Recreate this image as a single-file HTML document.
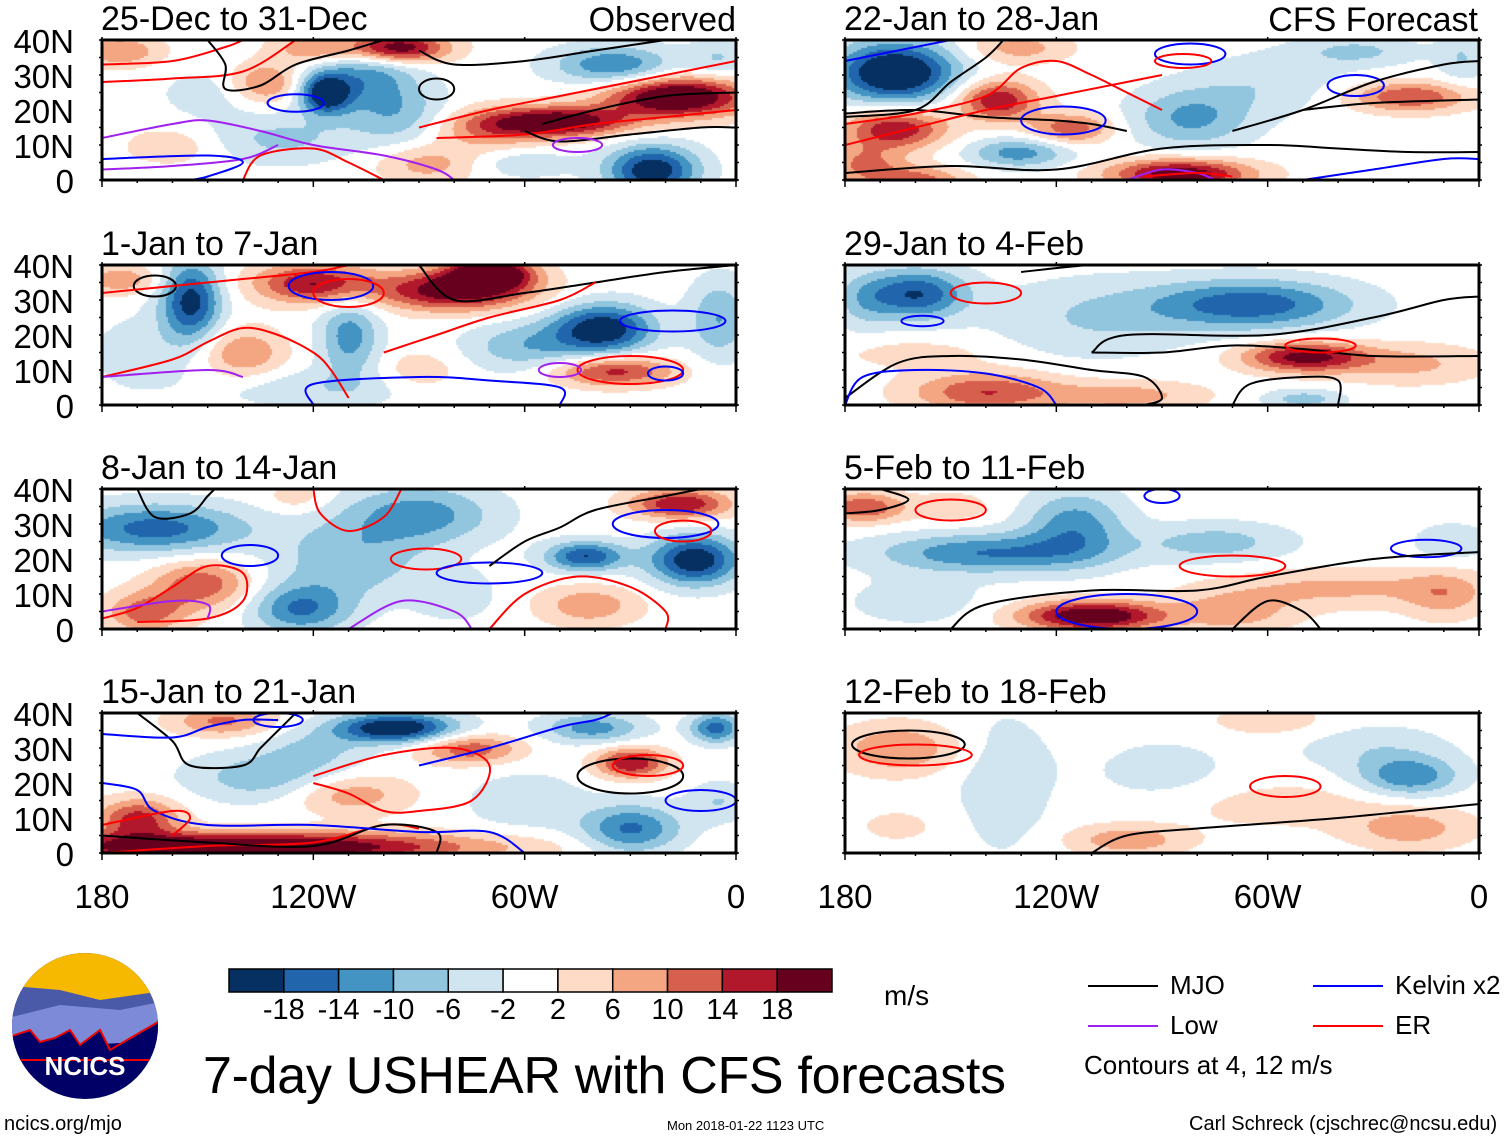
<!DOCTYPE html>
<html><head><meta charset="utf-8">
<style>
body{margin:0;background:#fff;width:1510px;height:1141px;overflow:hidden;position:relative;font-family:"Liberation Sans",sans-serif;}
.t{position:absolute;white-space:nowrap;color:#000;line-height:1;z-index:3;}
canvas{position:absolute;z-index:1;}
#ov{z-index:2;}
</style></head>
<body>
<svg id="ov" width="1510" height="1141" style="position:absolute;left:0;top:0"></svg>

<div class="t" style="left:884px;top:982px;font-size:28px">m/s</div>
<div class="t" style="left:203px;top:1050px;font-size:52px;letter-spacing:-0.3px">7-day USHEAR with CFS forecasts</div>
<div class="t" style="left:4px;top:1114px;font-size:20px">ncics.org/mjo</div>
<div class="t" style="left:667px;top:1119px;font-size:13px">Mon 2018-01-22 1123 UTC</div>
<div class="t" style="left:1189px;top:1114px;font-size:20px">Carl Schreck (cjschrec@ncsu.edu)</div>
<div class="t" style="left:1084px;top:1052px;font-size:26px">Contours at 4, 12 m/s</div>

<script>
// ---------- data ----------
const titles=["25-Dec to 31-Dec","22-Jan to 28-Jan","1-Jan to 7-Jan","29-Jan to 4-Feb","8-Jan to 14-Jan","5-Feb to 11-Feb","15-Jan to 21-Jan","12-Feb to 18-Feb"];
const latTicks=["40N","30N","20N","10N","0"];
const lonTicks=["180","120W","60W","0"];
const lonTickVals=[-180,-120,-60,0];
const cbLabels=["-18","-14","-10","-6","-2","2","6","10","14","18"];
const levels=[-18,-14,-10,-6,-2,2,6,10,14,18];
const colors=["#053061","#2166ac","#4393c3","#92c5de","#d1e5f0","#ffffff","#fddbc7","#f4a582","#d6604d","#b2182b","#67001f"];
// blobs per panel: [lon, lat, value(m/s), lonWidth, latWidth]
const blobs0=[[-17,24,26,14,4],[-50,17,22,14,3],[-70,15,10,12,4],[-97,38,24,10,3],[-120,38,10,8,3],[-175,37,10,8,3],[-134,28,11,7,4],[-117,25,-22,5,4],[-105,30,-12,10,7],[-95,18,-8,10,6],[-24,3,-22,9,5],[-35,33,-14,12,4],[-130,12,-7,15,5],[-160,10,5,10,4],[-88,5,8,10,4],[-60,5,-5,10,3],[-150,25,-4,10,5],[-5,35,-6,6,4]];
const blobs1=[[-166,31,-26,12,6],[-137,23,18,8,4],[-166,15,18,10,4],[-116,15,13,8,3],[-131,8,-12,10,3],[-82,18,-11,12,6],[-85,2,22,14,3],[-20,24,14,12,3],[-35,37,-7,12,3],[-131,38,8,10,3],[-175,5,10,8,4],[-60,28,-5,15,6],[-5,35,-6,5,5],[-160,0,12,10,3]];
const blobs2=[[-155,30,-20,6,8],[-120,35,18,12,4],[-80,33,22,15,4],[-70,38,26,8,3],[-38,22,-22,10,5],[-35,10,16,12,3],[-140,15,10,8,5],[-110,20,-12,6,8],[-60,17,-9,12,5],[-175,36,9,8,3],[-5,25,-10,6,8],[-120,5,-5,20,4],[-90,10,5,8,4],[-170,15,-4,10,8]];
const blobs3=[[-160,32,-18,10,5],[-65,29,-17,20,5],[-50,14,20,12,3],[-140,4,14,15,4],[-100,3,8,15,3],[-110,25,-6,20,8],[-20,12,7,15,4],[-175,30,-6,6,6],[-50,2,-8,8,2],[-160,15,4,15,3]];
const blobs4=[[-165,29,-16,18,5],[-152,13,13,10,5],[-168,5,12,8,4],[-12,20,-22,9,5],[-43,21,-18,8,3],[-16,36,18,10,3],[-90,33,-12,15,6],[-124,6,-14,10,5],[-110,20,-9,15,8],[-42,7,9,10,4],[-80,10,-5,8,5],[-125,38,5,6,3]];
const blobs5=[[-175,35,14,8,3],[-150,35,5,8,3],[-140,22,-14,22,4],[-115,30,-12,10,7],[-75,25,-8,15,4],[-110,4,24,14,3],[-70,5,8,12,4],[-40,12,7,25,4],[-10,10,7,8,5],[-8,25,-5,8,4],[-160,8,-4,15,5]];
const blobs6=[[-140,2,26,45,3],[-170,10,16,8,4],[-97,36,-24,12,3],[-76,30,13,10,3],[-30,26,18,7,3],[-134,22,-9,15,5],[-30,7,-15,10,5],[-6,36,-16,5,3],[-41,36,-12,10,3],[-110,17,9,12,4],[-146,38,11,10,3],[-120,30,-6,10,4],[-60,15,-5,12,6],[-5,15,-6,6,4]];
const blobs7=[[-165,30,10,12,5],[-20,22,-13,10,4],[-30,30,-5,15,5],[-90,22,-4,15,8],[-20,7,8,12,4],[-100,4,9,12,3],[-135,20,-5,10,14],[-60,14,4,30,5],[-60,38,5,12,3],[-165,8,3,10,4]];
const allBlobs=[blobs0,blobs1,blobs2,blobs3,blobs4,blobs5,blobs6,blobs7];
// contours per panel: [colorKey, points] or [colorKey, 'e', lon, lat, rxLon, ryLat]
const contours0=[["r",[[-180,33],[-160,34],[-145,38],[-140,40]]],["r",[[-180,28],[-160,29],[-140,31],[-125,40]]],["k",[[-150,40],[-145,33],[-145,26],[-135,27],[-125,33],[-110,37],[-100,40]]],["k",[[-90,37],[-80,33],[-60,34],[-40,37],[-20,40]]],["r",[[-90,15],[-70,20],[-50,24],[-30,28],[-10,32],[0,34]]],["r",[[-85,12],[-60,13],[-40,16],[-20,18],[0,20]]],["k",[[-60,14],[-50,11],[-30,13],[-10,15],[0,15]]],["k",[[-55,16],[-40,20],[-20,24],[0,25]]],["b","e",-125,22,8,2.5],["p",[[-180,12],[-160,16],[-150,17],[-135,14],[-120,10],[-100,7],[-85,3],[-80,0]]],["p",[[-180,3],[-160,4],[-140,6],[-130,10]]],["b",[[-180,6],[-150,7],[-140,5],[-150,1],[-155,0]]],["r",[[-140,0],[-135,7],[-120,9],[-110,5],[-100,0]]],["p","e",-45,10,7,2],["k","e",-85,26,5,3]];
const contours1=[["k",[[-180,18],[-160,20],[-150,28],[-140,35],[-135,40]]],["k",[[-180,19],[-160,20],[-140,18],[-120,17],[-110,16],[-100,14]]],["r",[[-180,16],[-160,19],[-140,24],[-130,32],[-120,34],[-110,30],[-100,25],[-90,20]]],["r",[[-180,10],[-160,15],[-140,20],[-120,24],[-100,28],[-90,30]]],["b","e",-118,17,12,4],["b",[[-180,34],[-170,36],[-160,38],[-150,40]]],["b","e",-82,36,10,3],["r","e",-84,34,8,2],["b","e",-35,27,8,3],["k",[[-70,14],[-50,20],[-30,28],[-10,33],[0,34]]],["k",[[-50,20],[-30,22],[0,23]]],["k",[[-180,2],[-150,4],[-120,3],[-90,9],[-60,10],[-40,9],[-20,8],[0,8]]],["b",[[-50,0],[-30,3],[-10,6],[0,6]]],["p",[[-100,0],[-90,3],[-80,2],[-75,0]]],["r",[[-95,1],[-80,2],[-70,1]]]];
const contours2=[["k","e",-165,34,6,3],["r",[[-180,32],[-160,34],[-140,36],[-120,38],[-110,40]]],["b","e",-115,34,12,4],["r","e",-110,32,10,4],["k",[[-90,40],[-80,30],[-60,32],[-40,35],[-20,38],[0,40]]],["r",[[-180,8],[-160,13],[-150,18],[-140,22],[-130,20],[-120,15],[-115,10],[-110,2]]],["p",[[-180,8],[-150,10],[-140,8]]],["r",[[-100,15],[-85,20],[-70,25],[-50,30],[-40,35]]],["b",[[-120,0],[-120,6],[-90,8],[-70,7],[-50,5],[-50,0]]],["b","e",-18,24,15,3],["r","e",-30,10,15,4],["b","e",-20,9,5,2],["p","e",-50,10,6,2]];
const contours3=[["r","e",-140,32,10,3],["b","e",-158,24,6,1.5],["k",[[-180,2],[-165,12],[-150,14],[-130,13],[-110,10],[-95,8],[-90,2],[-95,0]]],["b",[[-180,0],[-175,8],[-160,10],[-140,9],[-125,5],[-120,0]]],["k",[[-110,15],[-100,20],[-60,20],[-30,25],[-10,30],[0,31]]],["k",[[-110,15],[-90,15],[-70,17],[-50,16],[-30,14],[0,14]]],["r","e",-45,17,10,2],["k",[[-70,0],[-65,6],[-50,8],[-40,7],[-40,0]]],["k",[[-130,38],[-110,40],[-90,40]]]];
const contours4=[["k",[[-170,40],[-165,32],[-155,33],[-150,38],[-148,40]]],["r",[[-120,40],[-118,33],[-110,28],[-100,32],[-95,40]]],["b","e",-138,21,8,3],["r",[[-180,3],[-170,6],[-160,12],[-150,18],[-140,16],[-140,8],[-150,3],[-170,2]]],["p",[[-180,5],[-160,8],[-150,7],[-150,3]]],["r","e",-88,20,10,3],["b","e",-70,16,15,3],["k",[[-70,18],[-60,25],[-50,29],[-40,34],[-20,38],[-10,40]]],["b","e",-20,30,15,4],["r","e",-15,28,8,3],["r",[[-70,0],[-60,10],[-45,15],[-30,12],[-20,5],[-20,0]]],["p",[[-110,0],[-95,8],[-80,5],[-75,0]]]];
const contours5=[["k",[[-180,33],[-170,34],[-162,37],[-170,40]]],["r","e",-150,34,10,3],["b","e",-90,38,5,2],["b","e",-15,23,10,2.5],["r","e",-70,18,15,3],["k",[[-150,0],[-140,7],[-110,11],[-80,11],[-60,15],[-30,20],[0,22]]],["b","e",-100,5,20,5],["k",[[-70,0],[-60,8],[-50,5],[-45,0]]]];
const contours6=[["k",[[-170,40],[-160,32],[-155,25],[-140,25],[-135,30],[-130,35],[-125,40]]],["b",[[-180,34],[-160,33],[-150,36],[-140,38],[-130,38]]],["b","e",-130,38,7,2],["r",[[-120,20],[-110,17],[-100,12],[-90,12],[-75,15],[-70,25],[-80,30],[-100,28],[-120,22]]],["b",[[-90,25],[-70,30],[-50,36],[-40,38],[-35,40]]],["k","e",-30,22,15,5],["r","e",-25,25,10,3],["b","e",-10,15,10,3],["r",[[-180,0],[-150,2],[-120,3],[-100,8],[-90,7]]],["k",[[-180,5],[-150,3],[-120,2],[-100,8],[-85,6],[-85,0]]],["b",[[-180,20],[-170,18],[-165,12],[-150,8],[-120,8],[-90,6],[-70,6],[-60,0]]],["r",[[-180,8],[-160,12],[-155,10],[-160,5]]]];
const contours7=[["k","e",-162,31,16,4],["r","e",-160,28,16,3],["r","e",-55,19,10,3],["k",[[-110,0],[-100,5],[-80,7],[-40,10],[0,14]]]];
const allContours=[contours0,contours1,contours2,contours3,contours4,contours5,contours6,contours7];
const lineColors={k:"#000",b:"#0000ff",p:"#a020f0",r:"#ff0000"};

// ---------- layout ----------
const colX=[102,845], W=634, H=140, rowY=[40,265,489,713];
const NS="http://www.w3.org/2000/svg";
const ov=document.getElementById('ov');
function sv(tag,a,p){const e=document.createElementNS(NS,tag);for(const k in a)e.setAttribute(k,a[k]);(p||ov).appendChild(e);return e;}
function txt(s,l,t,fs,name,align){const d=document.createElement('div');d.className='t';d.textContent=s;d.style.left=l+'px';d.style.top=t+'px';d.style.fontSize=fs+'px';if(align==='r'){d.style.left='auto';d.style.right=(1510-l)+'px';}if(align==='c'){d.style.transform='translateX(-50%)';}


document.body.appendChild(d);return d;}
function colorOf(v){let i=0;while(i<levels.length&&v>=levels[i])i++;return colors[i];}
function smoothPath(P){
  let d='M'+P[0][0].toFixed(1)+' '+P[0][1].toFixed(1);
  for(let i=0;i<P.length-1;i++){const p0=P[i-1]||P[i],p1=P[i],p2=P[i+1],p3=P[i+2]||p2;
    const c1=[p1[0]+(p2[0]-p0[0])/6,p1[1]+(p2[1]-p0[1])/6],c2=[p2[0]-(p3[0]-p1[0])/6,p2[1]-(p3[1]-p1[1])/6];
    d+=' C'+c1[0].toFixed(1)+' '+c1[1].toFixed(1)+' '+c2[0].toFixed(1)+' '+c2[1].toFixed(1)+' '+p2[0].toFixed(1)+' '+p2[1].toFixed(1);}
  return d;}

for(let p=0;p<8;p++){
  const c=p%2,r=Math.floor(p/2),x0=colX[c],y0=rowY[r];
  const xs=lon=>x0+(lon+180)/180*W, ys=lat=>y0+H-lat/40*H;
  const cv=document.createElement('canvas');cv.width=W;cv.height=H;cv.style.left=x0+'px';cv.style.top=y0+'px';
  
  
  document.body.appendChild(cv);
  const g=cv.getContext('2d');const b=allBlobs[p];const step=2;
  for(let px=0;px<W;px+=step){const lon=-180+px/W*180;
    for(let py=0;py<H;py+=step){const lat=40-py/H*40;let v=0;
      for(const q of b){const dx=(lon-q[0])/q[3],dy=(lat-q[1])/q[4];v+=q[2]*Math.exp(-0.5*(dx*dx+dy*dy));}
      g.fillStyle=colorOf(v);g.fillRect(px,py,step,step);}}
  const cg=sv('g',{});
  
  
  sv('defs',{},cg).innerHTML='<clipPath id="pc'+p+'"><rect x="'+x0+'" y="'+y0+'" width="'+W+'" height="'+H+'"/></clipPath>';
  const cgi=sv('g',{'clip-path':'url(#pc'+p+')',fill:'none','stroke-width':2,'stroke-linejoin':'round'},cg);
  for(const ct of allContours[p]){
    const col=lineColors[ct[0]];
    if(ct[1]==='e'){
      const el=sv('ellipse',{cx:xs(ct[2]),cy:ys(ct[3]),rx:ct[4]/180*W,ry:ct[5]/40*H,stroke:col},cgi);
      
      
    } else {
      const pts=ct[1].map(q=>[xs(q[0]),ys(q[1])]);
      const pl=sv('path',{d:smoothPath(pts),stroke:col},cgi);
      
      
    }
  }
  const fr=sv('rect',{x:x0,y:y0,width:W,height:H,fill:'none',stroke:'#000','stroke-width':3});
  
  
  for(let lon=-180;lon<=0;lon+=10){const L=lon%60===0?7:3;
    sv('line',{x1:xs(lon),x2:xs(lon),y1:y0+H,y2:y0+H+L,stroke:'#000','stroke-width':1.5});
    sv('line',{x1:xs(lon),x2:xs(lon),y1:y0,y2:y0-(lon%60===0?3:1),stroke:'#000','stroke-width':1.5});}
  for(let lat=0;lat<=40;lat+=5){sv('line',{x1:x0+W,x2:x0+W+3,y1:ys(lat),y2:ys(lat),stroke:'#000','stroke-width':1.5});sv('line',{x1:x0,x2:x0-3,y1:ys(lat),y2:ys(lat),stroke:'#000','stroke-width':1.5});}
  txt(titles[p],x0-1,y0-38,34,'panel-title-'+(p+1));
  if(c===0){latTicks.forEach((s,i)=>txt(s,74,y0-15+i*35,33,'lat-label','r'));}
  if(r===3){lonTickVals.forEach((lv,i)=>txt(lonTicks[i],xs(lv),y0+H+27,33,'lon-label','c'));}
}
txt("Observed",736,3,34,'observed-label','r');
txt("CFS Forecast",1478,3,34,'forecast-label','r');

const cbX=229,cbW=603,cbY=969,cbH=23,bw=cbW/colors.length;
colors.forEach((col,i)=>{const rr=sv('rect',{x:cbX+i*bw,y:cbY,width:bw,height:cbH,fill:col,stroke:'#000','stroke-width':1.5});

});
cbLabels.forEach((s,i)=>txt(s,cbX+(i+1)*bw,996,29,'colorbar-label','c'));

const leg=[["MJO","#000",1088,986],["Kelvin x2","#00f",1313,986],["Low","#a020f0",1088,1026],["ER","#f00",1313,1026]];
leg.forEach(l=>{const ln=sv('line',{x1:l[2],x2:l[2]+70,y1:l[3],y2:l[3],stroke:l[1],'stroke-width':2});


txt(l[0],l[2]+82,l[3]-14,26,'legend-entry');});

const lg=sv('g',{});
sv('defs',{},lg).innerHTML='<clipPath id="cc"><circle cx="85" cy="1026" r="73"/></clipPath>';
const gg=sv('g',{'clip-path':'url(#cc)'},lg);
sv('rect',{x:0,y:950,width:170,height:160,fill:'#000066'},gg);
sv('rect',{x:0,y:950,width:170,height:50,fill:'#f7b800'},gg);
sv('path',{d:'M0 985 L60 990 L100 1000 L170 990 L170 1040 L0 1045Z',fill:'#4a5aa8'},gg);
sv('path',{d:'M0 1020 L60 1005 L120 1010 L170 1000 L170 1040 L0 1050Z',fill:'#7c8ad8'},gg);
sv('path',{d:'M0 1040 L30 1030 L40 1042 L55 1038 L70 1030 L80 1045 L100 1030 L110 1050 L170 1015 L170 1060 L0 1060Z',fill:'#000066',stroke:'#e00','stroke-width':2},gg);
const nt=sv('text',{x:85,y:1075,'text-anchor':'middle','font-family':'Liberation Sans, sans-serif','font-weight':'bold','font-size':26,fill:'#fff'},lg);nt.textContent='NCICS';
</script>
</body></html>
